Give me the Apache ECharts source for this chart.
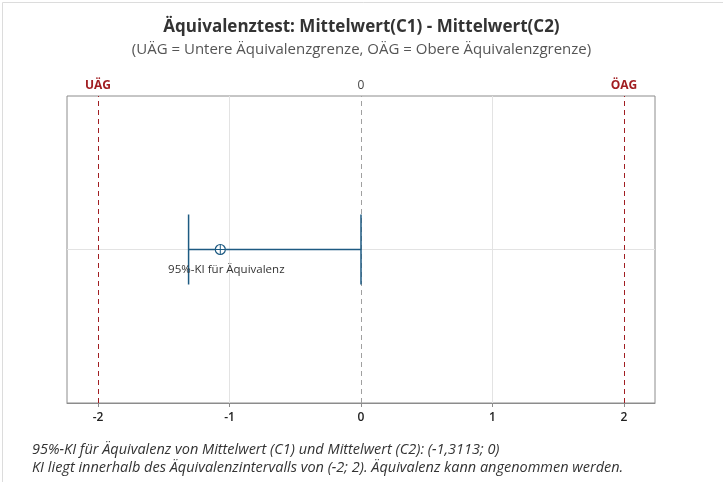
<!DOCTYPE html>
<html><head><meta charset="utf-8">
<script src="https://cdn.jsdelivr.net/npm/echarts@6/dist/echarts.min.js"></script>
<style>html,body{margin:0;padding:0;background:#fff}#c{width:723px;height:482px}</style>
</head><body><div id="c"></div>
<script>
const tickValues = [-2, -1, 0, 1, 2];
const topTickValues = [-2, 0, 2];
const topTickLabels = ['UÄG', '0', 'ÖAG'];
const equivLimits = [-2, 2];
const ciBounds = [-1.3113, 0];
const estimate = -1.07;
const xRange = [-2.236, 2.236];
const titleText = 'Äquivalenztest: Mittelwert(C1) - Mittelwert(C2)';
const subtitleText = '(UÄG = Untere Äquivalenzgrenze, OÄG = Obere Äquivalenzgrenze)';
const footLines = [
  '95%-KI für Äquivalenz von Mittelwert (C1) und Mittelwert (C2): (-1,3113; 0)',
  'KI liegt innerhalb des Äquivalenzintervalls von (-2; 2). Äquivalenz kann angenommen werden.'
];
const intervalLabel = '95%-KI für Äquivalenz';

const FONT = '"Open Sans", "Noto Sans", sans-serif';
const BLUE = '#1d5a82';
const RED = '#a11d21';

const chart = echarts.init(document.getElementById('c'));
chart.setOption({
  backgroundColor: '#fff',
  animation: false,
  textStyle: { fontFamily: FONT },
  title: [
    { text: titleText, left: 'center', top: 14,
      textStyle: { fontSize: 17, fontWeight: 'bold', color: '#333', fontFamily: FONT } },
    { text: subtitleText, left: 'center', top: 37,
      textStyle: { fontSize: 15, fontWeight: 'normal', color: '#555', fontFamily: FONT } }
  ],
  grid: { left: 67, right: 68, top: 96, bottom: 79, show: true, borderColor: '#8c8c8c', borderWidth: 1, containLabel: false },
  xAxis: [
    { type: 'value', position: 'bottom', min: xRange[0], max: xRange[1],
      axisLine: { show: true, onZero: false, lineStyle: { color: '#8c8c8c' } },
      axisTick: { show: true, customValues: tickValues, length: 4, lineStyle: { color: '#8c8c8c' } },
      axisLabel: { customValues: tickValues, color: '#222', fontSize: 12, fontWeight: 600, margin: 9,
        formatter: v => String(v) },
      splitLine: { show: false } },
    { type: 'value', position: 'top', min: xRange[0], max: xRange[1],
      axisLine: { show: false }, axisTick: { show: false },
      axisLabel: { customValues: topTickValues, fontSize: 12, margin: 4,
        formatter: v => {
          const i = topTickValues.indexOf(v);
          const t = topTickLabels[i];
          return v === 0 ? '{z|' + t + '}' : '{r|' + t + '}';
        },
        rich: { z: { color: '#444', fontSize: 12 }, r: { color: RED, fontSize: 12, fontWeight: 'bold' } } },
      splitLine: { show: false } }
  ],
  yAxis: { type: 'value', min: 0, max: 1, show: true,
    axisLine: { show: false }, axisTick: { show: false }, axisLabel: { show: false }, splitLine: { show: false } },
  series: [
    { type: 'line', data: [], xAxisIndex: 0, z: 1,
      markLine: { silent: true, symbol: 'none', label: { show: false }, z: 1,
        data: [
          { xAxis: -1, lineStyle: { color: '#e3e3e3', type: 'solid', width: 1 } },
          { xAxis: 1, lineStyle: { color: '#e3e3e3', type: 'solid', width: 1 } },
          { yAxis: 0.5, lineStyle: { color: '#e3e3e3', type: 'solid', width: 1 } },
          { xAxis: 0, lineStyle: { color: '#a0a0a0', type: [5, 4], width: 1 } },
          { xAxis: equivLimits[0], lineStyle: { color: RED, type: [5, 4], width: 1 } },
          { xAxis: equivLimits[1], lineStyle: { color: RED, type: [5, 4], width: 1 } }
        ] } },
    { type: 'custom', xAxisIndex: 0, z: 10,
      data: [[ciBounds[0], ciBounds[1], estimate, 0.5]],
      renderItem: function (params, api) {
        const lo = api.coord([api.value(0), api.value(3)]);
        const hi = api.coord([api.value(1), api.value(3)]);
        const est = api.coord([api.value(2), api.value(3)]);
        const cap = 35, r = 5;
        const yy = Math.floor(lo[1]) + 0.5;
        const st = { stroke: BLUE, lineWidth: 1.5, fill: null };
        return { type: 'group', children: [
          { type: 'line', shape: { x1: lo[0], y1: yy, x2: hi[0], y2: yy }, style: { stroke: BLUE, lineWidth: 1.6 } },
          { type: 'line', shape: { x1: lo[0], y1: yy - cap, x2: lo[0], y2: yy + cap }, style: st },
          { type: 'line', shape: { x1: hi[0], y1: yy - cap, x2: hi[0], y2: yy + cap }, style: st },
          { type: 'circle', shape: { cx: est[0], cy: yy, r: r }, style: { stroke: BLUE, lineWidth: 1.2, fill: '#fff' } },
          { type: 'line', shape: { x1: est[0] - r, y1: yy, x2: est[0] + r, y2: yy }, style: { stroke: BLUE, lineWidth: 1 } },
          { type: 'line', shape: { x1: est[0], y1: yy - r, x2: est[0], y2: yy + r }, style: { stroke: BLUE, lineWidth: 1 } },
          { type: 'text', x: est[0] + 6, y: yy + 20,
            style: { text: intervalLabel, fill: '#333', font: '11.5px ' + FONT, textAlign: 'center', textVerticalAlign: 'middle' } }
        ] };
      } }
  ],
  graphic: [
    { type: 'rect', left: 0, top: 0, shape: { width: 722, height: 481 }, style: { fill: null, stroke: '#dcdcdc', lineWidth: 1 }, silent: true },
    { type: 'text', left: 32, top: 442, style: { text: footLines[0], fill: '#333', font: 'italic 14.5px ' + FONT } },
    { type: 'text', left: 32, top: 460, style: { text: footLines[1], fill: '#333', font: 'italic 14.5px ' + FONT } }
  ]
});
</script></body></html>
